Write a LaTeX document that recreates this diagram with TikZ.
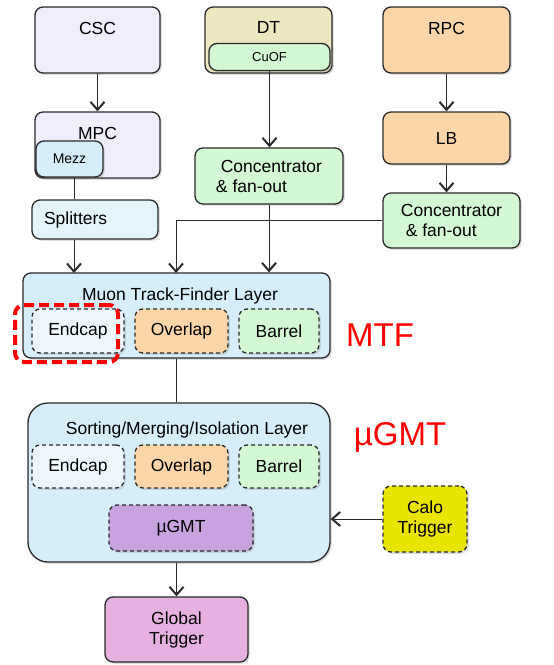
\documentclass[tikz,border=0pt]{standalone}
\usepackage{fontspec}
\setmainfont{Liberation Sans}
\usepackage{tikz}
\usetikzlibrary{arrows.meta,positioning,shadows}
\definecolor{lav}{HTML}{EEEEFD}
\definecolor{khaki}{HTML}{EDE7BF}
\definecolor{mint}{HTML}{D4F7D4}
\definecolor{peach}{HTML}{FCD6A8}
\definecolor{sky}{HTML}{D6EEFA}
\definecolor{ice}{HTML}{E3F4FA}
\definecolor{frost}{HTML}{EEF8FC}
\definecolor{lilac}{HTML}{C9A2E0}
\definecolor{lemon}{HTML}{E9E300}
\definecolor{pink}{HTML}{E6B0E0}
\definecolor{edge}{HTML}{2A2A2A}

\begin{document}
\begin{tikzpicture}[
  x=1pt, y=-1pt,
  size/.style 2 args={minimum width=#1pt, minimum height=#2pt},
  box/.style={draw=edge, line width=1.3pt, rounded corners=8pt, align=left,
              inner sep=3pt, font=\fontsize{17.5}{20}\selectfont,
              drop shadow={opacity=.25, shadow xshift=1.8pt, shadow yshift=-1.8pt}},
  part/.style={box, dashed, dash pattern=on 4pt off 3pt},
  title/.style={inner sep=0pt, font=\fontsize{17.5}{20}\selectfont},
  tag/.style={text=red, inner sep=0pt, font=\fontsize{33}{36}\selectfont},
  >={Straight Barb[length=8pt,width=14pt,line width=2pt]}]
  \useasboundingbox (0,0) rectangle (554,665);
  % detector inputs
  \node[box, fill=lav, size={125}{66}] (csc) at (97.5,40) {};
  \node[title] (csct) at (97.5,28) {CSC};
  \node[box, fill=khaki, size={127}{66}] (dt) at (268.5,40) {};
  \node[title] (dtt) at (268.5,27) {DT};
  \node[box, fill=mint, size={121}{27}, font=\fontsize{13}{15}\selectfont] (cuof) at (269.5,57) {CuOF};
  \node[box, fill=peach, size={127}{66}] (rpc) at (446.5,40) {};
  \node[title] (rpct) at (446.5,28) {RPC};
  % front-end electronics
  \node[box, fill=lav, size={125}{66}] (mpc) at (97.5,145) {};
  \node[title] (mpct) at (97.5,133) {MPC};
  \node[box, fill=sky, size={67}{36}, font=\fontsize{14}{16}\selectfont] (mezz) at (69.5,159) {Mezz};
  \node[box, fill=ice, size={126}{39}, text width=102pt] (spl) at (95,219.5) {Splitters};
  \node[box, fill=mint, size={148}{56}] (conc1) at (269,176) {\ Concentrator\\\& fan-out};
  \node[box, fill=peach, size={127}{52}, align=center] (lb) at (446.5,138) {LB};
  \node[box, fill=mint, size={137}{55}] (conc2) at (451.5,220.5) {Concentrator\\\ \& fan-out};
  % track finders
  \node[box, fill=sky, size={307}{85}] (mtf) at (176.5,315.5) {};
  \node[title] (mtft) at (180,296) {Muon Track-Finder Layer};
  \node[part, fill=frost, size={92}{44}] (end1) at (78,331) {Endcap};
  \node[part, fill=peach, size={93}{44}] (ovl1) at (181.5,331) {Overlap};
  \node[part, fill=mint, size={80}{44}] (bar1) at (279,331) {Barrel};
  \node[draw=red, line width=4pt, dash pattern=on 10pt off 5pt, rounded corners=9pt,
        size={103}{57}] (hl) at (66.5,333.5) {};
  \node[tag] (mtftag) at (380,335) {MTF};
  % global muon trigger
  \node[box, rounded corners=20pt, fill=sky, size={302}{159}] (smi) at (179,482.5) {};
  \node[title] (smit) at (187,430) {Sorting/Merging/Isolation Layer};
  \node[part, fill=frost, size={92}{43}] (end2) at (78,466.5) {Endcap};
  \node[part, fill=peach, size={93}{43}] (ovl2) at (181.5,466.5) {Overlap};
  \node[part, fill=mint, size={80}{43}] (bar2) at (279,466.5) {Barrel};
  \node[part, fill=lilac, size={144}{46}] (ugmt) at (181,528) {µGMT};
  \node[tag] (ugmttag) at (400,437) {µGMT};
  \node[part, fill=lemon, size={84}{66}, align=center] (calo) at (425,519) {Calo\\Trigger};
  \node[box, fill=pink, size={143}{65}, align=center] (gt) at (176.5,629.5) {Global\\Trigger};
  % connections
  \coordinate (in1) at (74,273);
  \coordinate (in2) at (176,273);
  \draw[edge, thick, ->] (csc) -- (mpc);
  \draw[edge, thick, ->] (cuof.south) -- (cuof.south |- conc1.north);
  \draw[edge, thick, ->] (rpc) -- (lb);
  \draw[edge, thick, ->] (lb.south) -- (lb.south |- conc2.north);
  \draw[edge, thick] (mezz.south -| in1) -- (spl.north -| in1);
  \draw[edge, thick, ->] (spl.south -| in1) -- (in1);
  \draw[edge, thick, ->] (conc2.west) -| (in2);
  \draw[edge, thick, ->] (conc1.south) -- (conc1.south |- mtf.north);
  \draw[edge, thick] (mtf.south -| in2) -- (smi.north -| in2);
  \draw[edge, thick, ->] (smi.south -| gt.north) -- (gt.north);
  \draw[edge, thick, ->] (calo.west) -- (calo.west -| smi.east);
\end{tikzpicture}
\end{document}
